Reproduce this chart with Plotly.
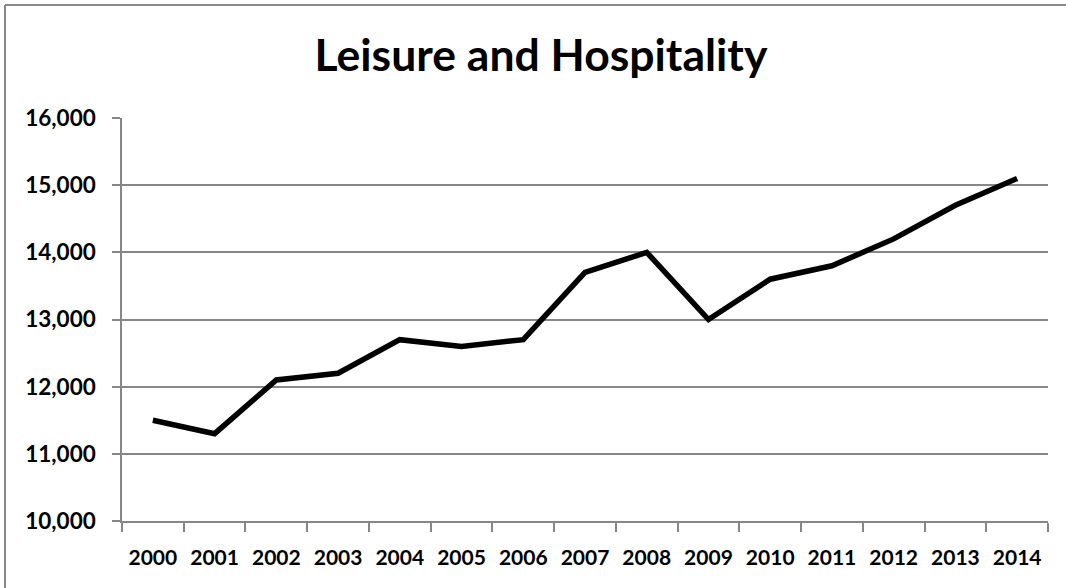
import plotly.graph_objects as go

years = ["2000", "2001", "2002", "2003", "2004", "2005", "2006", "2007",
         "2008", "2009", "2010", "2011", "2012", "2013", "2014"]
employment = [11500, 11300, 12100, 12200, 12700, 12600, 12700, 13700,
              14000, 13000, 13600, 13800, 14200, 14700, 15100]
y_ticks = [10000, 11000, 12000, 13000, 14000, 15000, 16000]
y_tick_labels = ["10,000", "11,000", "12,000", "13,000", "14,000", "15,000", "16,000"]
title_text = "Leisure and Hospitality"

W, H = 1066, 588
GRID = "#878787"
FONT = "Lato"
L, R, T, B = 122, 18, 118, 67
PW, PH = W - L - R, H - T - B

fig = go.Figure()
fig.add_trace(go.Scatter(
    x=years, y=employment, mode="lines",
    line=dict(color="black", width=5.5),
    hoverinfo="skip", showlegend=False,
))

bx = -(L - 5) / PW
by = 1 + (T - 5) / PH

fig.update_layout(
    width=W, height=H,
    margin=dict(l=L, r=R, t=T, b=B),
    paper_bgcolor="white", plot_bgcolor="white",
    title=dict(text=title_text, x=541 / W, xanchor="center", xref="container",
               y=1 - 55 / H, yanchor="middle", yref="container",
               font=dict(family=FONT, size=44.5, color="black", weight="bold")),
    xaxis=dict(
        type="category", tickson="boundaries", ticks="outside", ticklen=9,
        tickcolor=GRID, tickwidth=1.5, showline=True, linecolor=GRID, linewidth=1.5,
        showgrid=False, zeroline=False,
        tickfont=dict(family=FONT, size=21, color="black", weight="bold"),
        ticklabelstandoff=17,
        range=[-0.5, 14.5], fixedrange=True,
    ),
    yaxis=dict(
        range=[10000, 16000], tickvals=y_ticks, ticktext=y_tick_labels,
        ticks="outside", ticklen=8, tickcolor=GRID, tickwidth=1.5,
        showline=True, linecolor=GRID, linewidth=1.5,
        showgrid=True, gridcolor=GRID, gridwidth=1.5, zeroline=False,
        tickfont=dict(family=FONT, size=22.5, color="black", weight="bold"),
        ticklabelstandoff=12, fixedrange=True,
    ),
    shapes=[
        dict(type="line", xref="paper", yref="paper",
             x0=bx, x1=1.2, y0=by, y1=by,
             line=dict(color=GRID, width=2)),
        dict(type="line", xref="paper", yref="paper",
             x0=bx, x1=bx, y0=-0.3, y1=by,
             line=dict(color=GRID, width=2)),
    ],
)

fig.write_html("out.html", config={"displayModeBar": False},
               post_script="document.body.style.margin='0';document.body.style.overflow='hidden';")
